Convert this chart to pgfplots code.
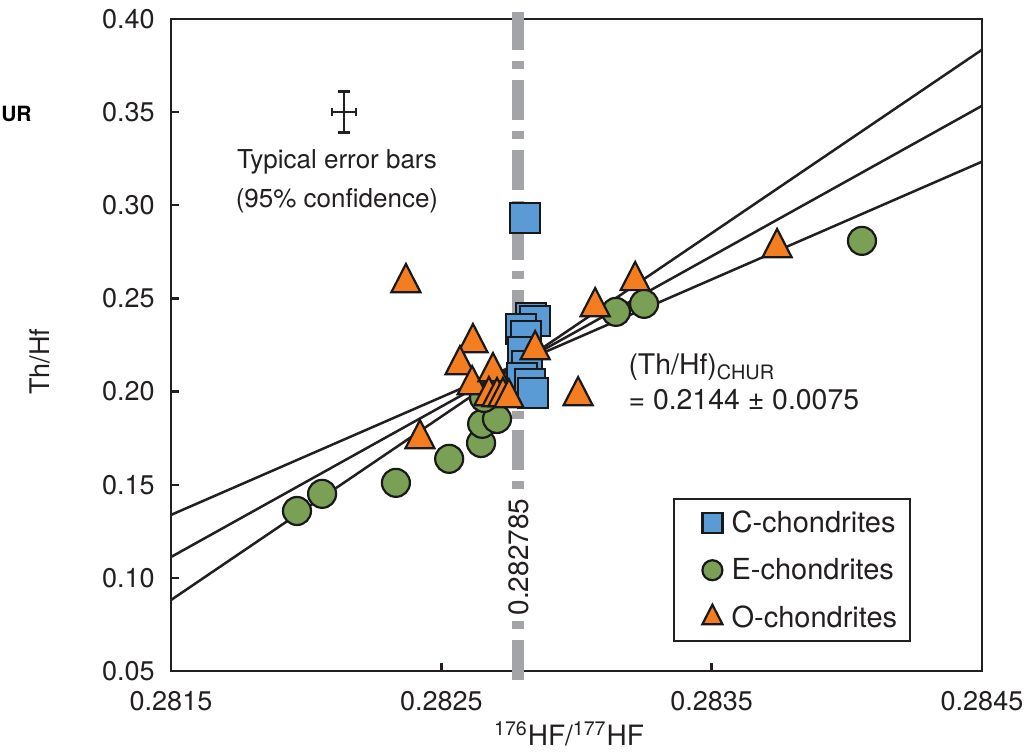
\documentclass[border=0pt]{standalone}
\usepackage{pgfplots}
\pgfplotsset{compat=1.18}
\usepackage{fontspec}
\setmainfont{TeX Gyre Heros}

\definecolor{axisc}{RGB}{35,31,32}
\definecolor{cblue}{RGB}{91,155,213}
\definecolor{cgreen}{RGB}{122,160,86}
\definecolor{corange}{RGB}{244,125,32}
\definecolor{cgrey}{RGB}{163,164,168}

\pgfplotsset{
  cstyle/.style={only marks, mark=square*,
    mark options={draw=black!90, fill=cblue, line width=1.1pt}},
  estyle/.style={only marks, mark=*,
    mark options={draw=black!90, fill=cgreen, line width=1.1pt}},
  ostyle/.style={only marks, mark=triangle*,
    mark options={draw=black!90, fill=corange, line width=1.1pt, yscale=1.12}},
  seg/.style={forget plot, axisc, line width=1.25pt},
}

\begin{document}
\begin{tikzpicture}
\begin{axis}[
  at={(0pt,0pt)}, anchor=south west,
  scale only axis, width=405.5pt, height=326pt,
  xmin=0.2815, xmax=0.2845, ymin=0.05, ymax=0.40,
  xtick={0.2815,0.2825,0.2835,0.2845},
  xticklabels={0.2815,0.2825,0.2835,0.2845},
  ytick={0.05,0.10,0.15,0.20,0.25,0.30,0.35,0.40},
  yticklabels={0.05,0.10,0.15,0.20,0.25,0.30,0.35,0.40},
  tick align=inside, tick pos=left,
  major tick length=4pt,
  tick style={line width=1.2pt, color=axisc},
  axis line style={line width=1.3pt, color=axisc},
  ticklabel style={font=\fontsize{13.5}{16}\selectfont, text=axisc},
  yticklabel style={inner xsep=8pt},
  xticklabel style={inner ysep=10pt},
  clip=false,
  xlabel={\textsuperscript{176}HF/\textsuperscript{177}HF},
  xlabel style={at={(axis description cs:0.4908,-0.115)}, anchor=base,
    font=\fontsize{14}{16}\selectfont, text=axisc},
  ylabel={Th/Hf},
  ylabel style={at={(axis description cs:-0.1615,0.474)}, anchor=center,
    font=\fontsize{13.5}{16}\selectfont, text=axisc},
  legend image code/.code={%
    \path (-12pt,0pt) (5pt,0pt);
    \draw[#1] plot coordinates {(0pt,0pt)};},
  legend cell align=left,
  legend style={at={(rel axis cs:0.619,0.2653)}, anchor=north west,
    draw=axisc, line width=1.2pt, fill=white,
    font=\fontsize{14.5}{17}\selectfont, text=axisc,
    inner xsep=6.5pt, inner ysep=1.75pt,
    row sep=3.75pt, column sep=4pt,
    nodes={inner sep=0pt, minimum height=20pt}},
]

% legend entries
\addlegendimage{cstyle, mark size=5pt}
\addlegendentry{C-chondrites}
\addlegendimage{estyle, mark size=5pt}
\addlegendentry{E-chondrites}
\addlegendimage{ostyle, mark size=5.8pt}
\addlegendentry{O-chondrites}

% CHUR reference value of 176Hf/177Hf
\addplot[forget plot, cgrey, line width=6pt,
  dash pattern=on 20pt off 5.5pt on 4pt off 5.5pt]
  coordinates {(0.282785,0.04517) (0.282785,0.4039)};

% regression line and its bounding lines
\addplot[seg] coordinates {(0.2815,0.1338) (0.2845,0.3234)};
\addplot[seg] coordinates {(0.2815,0.1112) (0.2845,0.3534)};
\addplot[seg] coordinates {(0.2815,0.0881) (0.2845,0.3835)};

% typical uncertainty: centre (0.28214, 0.350), +-0.0000444 in x, +-0.0110 in y
\addplot[seg] coordinates {(0.28214,0.339) (0.28214,0.361)};
\addplot[seg] coordinates {(0.2820956,0.350) (0.2821844,0.350)};
\addplot[seg] coordinates {(0.282116,0.339) (0.282164,0.339)};
\addplot[seg] coordinates {(0.282116,0.361) (0.282164,0.361)};
\addplot[seg] coordinates {(0.2820956,0.3478) (0.2820956,0.3522)};
\addplot[seg] coordinates {(0.2821844,0.3478) (0.2821844,0.3522)};

% E-chondrites
\addplot[estyle, forget plot, mark size=7pt]
  coordinates {
  (0.281966,0.1359) (0.282059,0.1451) (0.282332,0.1510) (0.282529,0.1639)
  (0.282647,0.1724) (0.282651,0.1827) (0.282706,0.1853) (0.282658,0.1966)
  (0.283146,0.2428) (0.283250,0.2471) (0.284056,0.2809)};

% C-chondrites
\addplot[cstyle, forget plot, mark size=7.5pt]
  coordinates {
  (0.282810,0.2933) (0.282832,0.2396) (0.282847,0.2380) (0.282795,0.2337)
  (0.282813,0.2299) (0.282802,0.2213) (0.282817,0.2138) (0.282799,0.2074)
  (0.282828,0.2041) (0.282839,0.1993)};

% O-chondrites
\addplot[ostyle, forget plot, mark size=8.4pt]
  coordinates {
  (0.282369,0.2584) (0.282617,0.2262) (0.282569,0.2143) (0.282614,0.2036)
  (0.282691,0.2106) (0.282676,0.1977) (0.282706,0.1972) (0.282728,0.1972)
  (0.282750,0.1966) (0.282847,0.2224) (0.283006,0.1977) (0.282421,0.1746)
  (0.283069,0.2455) (0.283217,0.2595) (0.283742,0.2772)};

\node[align=center, font=\fontsize{13}{19.5}\selectfont, text=axisc]
  at (axis cs:0.282114,0.3129) {Typical error bars\\(95\% confidence)};
\node[anchor=base west, inner sep=0pt, font=\fontsize{14.2}{17}\selectfont, text=axisc]
  at (axis cs:0.283191,0.2090) {(Th/Hf)\textsubscript{CHUR}};
\node[anchor=base west, inner sep=0pt, font=\fontsize{14.2}{17}\selectfont, text=axisc]
  at (axis cs:0.283191,0.1902) {= 0.2144 ± 0.0075};
\node[rotate=90, fill=white, inner xsep=2pt, inner ysep=1pt,
  font=\fontsize{14}{16}\selectfont, text=axisc]
  at (axis cs:0.282785,0.1112) {0.282785};
\node[anchor=east, inner sep=0pt, font=\fontsize{10.5}{12}\selectfont\bfseries]
  at (rel axis cs:-0.1714,0.8543) {UR};
\end{axis}
\pgfresetboundingbox
\path[use as bounding box] (-85.5pt,-40.5pt) rectangle (431pt,335.5pt);
\end{tikzpicture}
\end{document}
